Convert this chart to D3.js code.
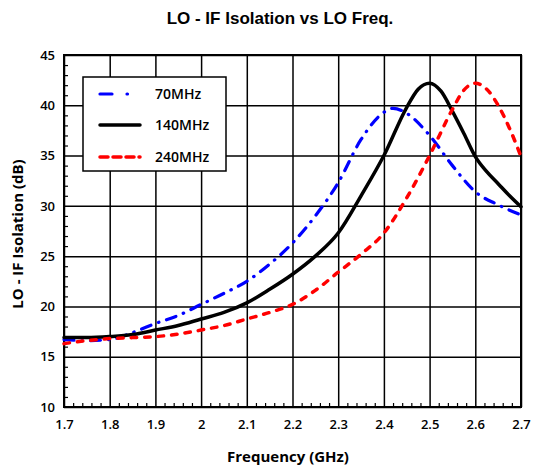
<!DOCTYPE html>
<html>
<head>
<meta charset="utf-8">
<script src="https://cdn.jsdelivr.net/npm/d3@7"></script>
<style>
  body { margin: 0; background: #fff; }
  svg text { fill: #000; }
</style>
</head>
<body>
<div id="chart"></div>
<script>
// data
var freq70 = [1.70, 1.75, 1.80, 1.85, 1.90, 1.95, 2.00, 2.05, 2.10, 2.15, 2.20, 2.25, 2.30, 2.35, 2.40, 2.42, 2.45, 2.50, 2.55, 2.60, 2.65, 2.70];
var iso70  = [16.7, 16.6, 16.7, 17.4, 18.3, 19.1, 20.2, 21.3, 22.5, 24.2, 26.3, 29.0, 32.3, 36.6, 39.3, 39.7, 39.2, 37.0, 34.0, 31.4, 30.1, 29.1];

var freq140 = [1.70, 1.75, 1.80, 1.85, 1.90, 1.95, 2.00, 2.05, 2.10, 2.15, 2.20, 2.25, 2.30, 2.35, 2.40, 2.45, 2.475, 2.50, 2.525, 2.55, 2.575, 2.60, 2.625, 2.65, 2.675, 2.70];
var iso140  = [16.9, 16.9, 17.0, 17.2, 17.65, 18.1, 18.75, 19.4, 20.35, 21.7, 23.2, 25.0, 27.3, 31.0, 35.0, 39.8, 41.6, 42.2, 41.4, 39.4, 37.2, 34.9, 33.4, 32.2, 31.0, 29.9];

var freq240 = [1.70, 1.75, 1.80, 1.85, 1.90, 1.95, 2.00, 2.05, 2.10, 2.15, 2.20, 2.25, 2.30, 2.35, 2.40, 2.45, 2.50, 2.55, 2.575, 2.60, 2.625, 2.65, 2.675, 2.70];
var iso240  = [16.3, 16.6, 16.8, 16.9, 17.0, 17.25, 17.65, 18.1, 18.75, 19.4, 20.2, 21.6, 23.4, 25.2, 27.3, 30.8, 35.0, 39.6, 41.5, 42.2, 41.6, 40.0, 37.7, 34.9];

var xTicks = [1.7, 1.8, 1.9, 2.0, 2.1, 2.2, 2.3, 2.4, 2.5, 2.6, 2.7];
var yTicks = [10, 15, 20, 25, 30, 35, 40, 45];
var seriesNames = ["70MHz", "140MHz", "240MHz"];

var W = 542, H = 465;
var margin = { left: 64, right: 21, top: 55, bottom: 58 };

var svg = d3.select("#chart").append("svg")
    .attr("width", W).attr("height", H);

var x = d3.scaleLinear().domain([1.7, 2.7]).range([margin.left, W - margin.right]);
var y = d3.scaleLinear().domain([10, 45]).range([H - margin.bottom, margin.top]);

var font = "'Open Sans', 'DejaVu Sans', sans-serif";

// grid
svg.append("g")
    .attr("transform", "translate(0," + (H - margin.bottom) + ")")
    .call(d3.axisBottom(x).tickValues(xTicks).tickSize(-(H - margin.top - margin.bottom)).tickFormat(""))
    .call(g => g.select(".domain").remove())
    .selectAll("line").attr("stroke", "#000").attr("stroke-width", 1.5);
svg.append("g")
    .attr("transform", "translate(" + margin.left + ",0)")
    .call(d3.axisLeft(y).tickValues(yTicks).tickSize(-(W - margin.left - margin.right)).tickFormat(""))
    .call(g => g.select(".domain").remove())
    .selectAll("line").attr("stroke", "#000").attr("stroke-width", 1.5);

// minor ticks inside the frame
var xMinor = d3.range(1.7, 2.7001, 0.02).filter(v => Math.abs(v * 10 - Math.round(v * 10)) > 1e-6);
svg.append("g")
    .attr("transform", "translate(0," + (H - margin.bottom) + ")")
    .call(d3.axisBottom(x).tickValues(xMinor).tickSize(-4).tickFormat(""))
    .call(g => g.select(".domain").remove())
    .selectAll("line").attr("stroke", "#000").attr("stroke-width", 1.2);
var yMinor = d3.range(10, 45.001, 1).filter(v => v % 5 !== 0);
svg.append("g")
    .attr("transform", "translate(" + margin.left + ",0)")
    .call(d3.axisLeft(y).tickValues(yMinor).tickSize(-4).tickFormat(""))
    .call(g => g.select(".domain").remove())
    .selectAll("line").attr("stroke", "#000").attr("stroke-width", 1.2);

// tick labels
var xAxis = svg.append("g")
    .attr("transform", "translate(0," + (H - margin.bottom) + ")")
    .call(d3.axisBottom(x).tickValues(xTicks).tickSize(0).tickPadding(13).tickFormat(d => d3.format("")(+d.toFixed(1))));
xAxis.select(".domain").remove();
xAxis.selectAll("text").attr("font-family", font).attr("font-size", 13).attr("font-weight", 600);

var yAxis = svg.append("g")
    .attr("transform", "translate(" + margin.left + ",0)")
    .call(d3.axisLeft(y).tickValues(yTicks).tickSize(0).tickPadding(9));
yAxis.select(".domain").remove();
yAxis.selectAll("text").attr("font-family", font).attr("font-size", 13).attr("font-weight", 600);

// frame
svg.append("rect")
    .attr("x", margin.left).attr("y", margin.top)
    .attr("width", W - margin.left - margin.right)
    .attr("height", H - margin.top - margin.bottom)
    .attr("fill", "none").attr("stroke", "#000").attr("stroke-width", 2);

// lines
var styles = [
    { color: "#0000ff", dash: "10,8,0.5,8", width: 3.2 },
    { color: "#000000", dash: null, width: 3.5 },
    { color: "#ff0000", dash: "5.5,8", width: 3.5 }
];
var series = [
    d3.zip(freq70, iso70),
    d3.zip(freq140, iso140),
    d3.zip(freq240, iso240)
];
var line = d3.line()
    .x(d => x(d[0]))
    .y(d => y(d[1]))
    .curve(d3.curveMonotoneX);

series.forEach((s, i) => {
    svg.append("path")
        .datum(s)
        .attr("d", line)
        .attr("fill", "none")
        .attr("stroke", styles[i].color)
        .attr("stroke-width", styles[i].width)
        .attr("stroke-linecap", "round")
        .attr("stroke-dasharray", styles[i].dash);
});

// legend
var lg = svg.append("g");
lg.append("rect")
    .attr("x", 83).attr("y", 77).attr("width", 143).attr("height", 94)
    .attr("fill", "#fff").attr("stroke", "#000").attr("stroke-width", 1.5);
var legendY = [94, 125, 157];
seriesNames.forEach((name, i) => {
    lg.append("line")
        .attr("x1", 100).attr("x2", 140)
        .attr("y1", legendY[i]).attr("y2", legendY[i])
        .attr("stroke", styles[i].color)
        .attr("stroke-width", styles[i].width)
        .attr("stroke-linecap", "round")
        .attr("stroke-dasharray", i === 0 ? "12,15,0.5,20" : i === 2 ? "8,5" : null);
    lg.append("text")
        .attr("x", 155).attr("y", legendY[i])
        .attr("dy", "0.35em")
        .attr("font-family", font).attr("font-size", 14).attr("font-weight", 600)
        .text(name);
});

// titles
svg.append("text")
    .attr("x", 280).attr("y", 24)
    .attr("text-anchor", "middle")
    .attr("font-family", "'Liberation Sans', Arial, sans-serif")
    .attr("font-size", 17).attr("font-weight", "bold")
    .text("LO - IF Isolation vs LO Freq.");

svg.append("text")
    .attr("x", 288).attr("y", 462)
    .attr("text-anchor", "middle")
    .attr("font-family", font)
    .attr("font-size", 15).attr("font-weight", "bold")
    .text("Frequency (GHz)");

svg.append("text")
    .attr("transform", "translate(23," + 234 + ") rotate(-90)")
    .attr("text-anchor", "middle")
    .attr("font-family", font)
    .attr("font-size", 15).attr("font-weight", "bold")
    .text("LO - IF Isolation (dB)");
</script>
</body>
</html>
